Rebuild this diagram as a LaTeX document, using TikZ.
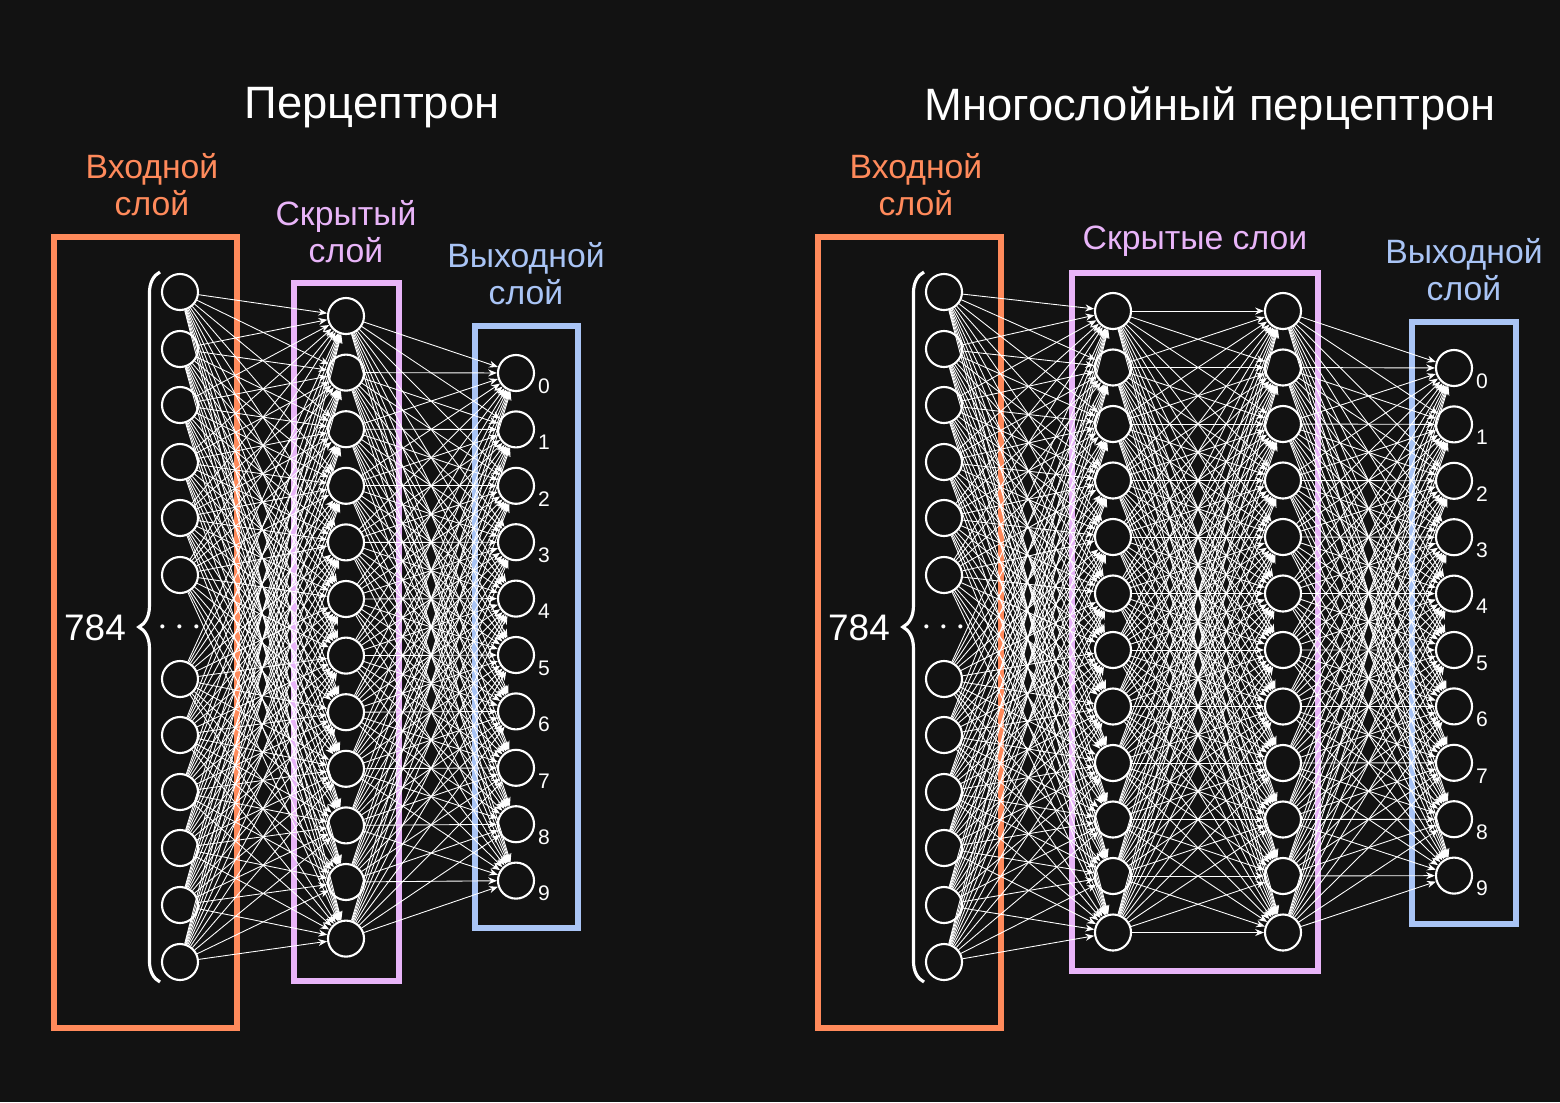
\documentclass[tikz,border=0pt]{standalone}
\usepackage{fontspec}
\setmainfont{Liberation Sans}
\usetikzlibrary{arrows.meta, positioning, decorations.pathreplacing, calc}
\definecolor{bg}{HTML}{121212}
\definecolor{inorange}{HTML}{FF8A5B}
\definecolor{hidpink}{HTML}{E8B4F8}
\definecolor{outblue}{HTML}{A9C4F5}
\tikzset{
  neuron/.style={circle, draw=white, fill=bg, line width=0.6pt, minimum size=0.36cm, inner sep=0pt},
  link/.style={white, line width=0.25pt, -{Stealth[length=2.5pt,width=2pt]}},
  layerbox/.style={line width=1.6pt},
  layercap/.style={font=\fontsize{9.6}{11.5}\selectfont, align=center},
  title/.style={white, font=\fontsize{12.9}{15}\selectfont},
  digit/.style={white, font=\fontsize{6}{7}\selectfont},
  count/.style={white, font=\fontsize{10.5}{12}\selectfont}
}
\begin{document}
\begin{tikzpicture}[x=0.01cm, y=-0.01cm]
\useasboundingbox (0,0) rectangle (1560,1102);
\fill[bg] (0,0) rectangle (1560,1102);

% ---------- Perceptron ----------
\node[title] (t1) at (372,108) {Перцептрон};
\node[layercap, inorange] (c1) at (152,185) {Входной\\[-1pt]слой};
\node[layercap, hidpink] (c2) at (346,232) {Скрытый\\[-1pt]слой};
\node[layercap, outblue] (c3) at (526,274) {Выходной\\[-1pt]слой};
\draw[layerbox, inorange] (54,237) rectangle (237,1028);
\draw[layerbox, hidpink] (294,283) rectangle (399,981);
\draw[layerbox, outblue] (475,326) rectangle (578,928);

% input neurons
\foreach \y [count=\i] in {292,349,405,462,518,575,679,735,792,848,905,962}
  \node[neuron] (a\i) at (180,\y) {};
\node[count] (ad) at (180,628) {$\cdots$};
% hidden neurons
\foreach \i in {1,...,12}
  \node[neuron] (h\i) at (346,{316+(\i-1)*56.6}) {};
% output neurons
\foreach \i in {1,...,10} {
  \node[neuron] (o\i) at (516,{373+(\i-1)*56.4}) {};
  \node[digit] at ($(o\i)+(28,13)$) {\the\numexpr\i-1\relax};
}
% connections
\foreach \i in {1,...,12}
  \foreach \j in {1,...,12}
    \draw[link] (a\i) -- (h\j);
\foreach \i in {1,...,12}
  \foreach \j in {1,...,10}
    \draw[link] (h\i) -- (o\j);
% brace
\draw[white, line width=0.9pt, decorate, decoration={brace, amplitude=6pt}]
  (160,982) -- (160,272);
\node[count] (n1) at (95,628) {784};

% ---------- Multilayer perceptron ----------
\node[title] (t2) at (1210,108) {Многослойный перцептрон};
\node[layercap, inorange] (d1) at (916,185) {Входной\\[-1pt]слой};
\node[layercap, hidpink] (d2) at (1195,241) {Скрытые слои};
\node[layercap, outblue] (d3) at (1464,270) {Выходной\\[-1pt]слой};
\draw[layerbox, inorange] (818,237) rectangle (1001,1028);
\draw[layerbox, hidpink] (1072,273) rectangle (1318,971);
\draw[layerbox, outblue] (1412,322) rectangle (1516,924);

\foreach \y [count=\i] in {292,349,405,462,518,575,679,735,792,848,905,962}
  \node[neuron] (b\i) at (944,\y) {};
\node[count] (bd) at (944,628) {$\cdots$};
\foreach \i in {1,...,12} {
  \node[neuron] (p\i) at (1113,{311+(\i-1)*56.5}) {};
  \node[neuron] (q\i) at (1283,{311+(\i-1)*56.5}) {};
}
\foreach \i in {1,...,10} {
  \node[neuron] (r\i) at (1454,{368+(\i-1)*56.4}) {};
  \node[digit] at ($(r\i)+(28,13)$) {\the\numexpr\i-1\relax};
}
\foreach \i in {1,...,12}
  \foreach \j in {1,...,12} {
    \draw[link] (b\i) -- (p\j);
    \draw[link] (p\i) -- (q\j);
  }
\foreach \i in {1,...,12}
  \foreach \j in {1,...,10}
    \draw[link] (q\i) -- (r\j);
\draw[white, line width=0.9pt, decorate, decoration={brace, amplitude=6pt}]
  (924,982) -- (924,272);
\node[count] (n2) at (859,628) {784};
\end{tikzpicture}
\end{document}
